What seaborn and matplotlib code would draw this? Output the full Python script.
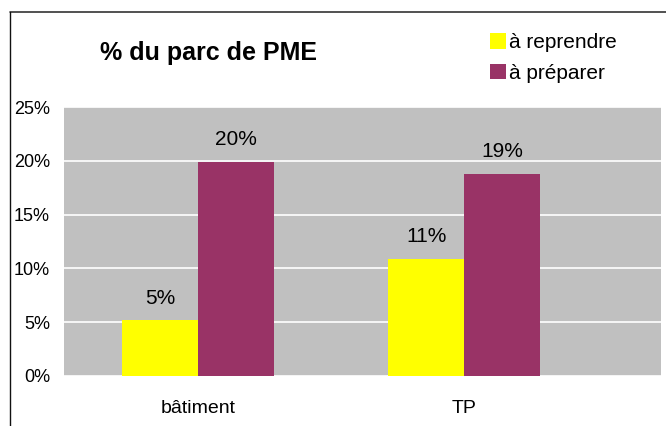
import pandas as pd
import numpy as np
import matplotlib.pyplot as plt
import seaborn as sns
from matplotlib.lines import Line2D
from matplotlib.patches import Patch

# data
categories = ["bâtiment", "TP"]
series = ["à reprendre", "à préparer"]
reprendre = [5.2, 10.9]
preparer = [19.9, 18.8]
labels_reprendre = ["5%", "11%"]
labels_preparer = ["20%", "19%"]
yticks = [0, 5, 10, 15, 20, 25]
colors = ["#FFFF00", "#993366"]

data = pd.DataFrame({
    "cat": categories * 2,
    "serie": [series[0]] * 2 + [series[1]] * 2,
    "val": reprendre + preparer,
    "lab": labels_reprendre + labels_preparer,
})

sns.set_style("white")
plt.rcParams["font.family"] = ["Liberation Sans", "DejaVu Sans"]
plt.rcParams["text.color"] = "black"
plt.rcParams["xtick.color"] = "black"
plt.rcParams["ytick.color"] = "black"

fig = plt.figure(figsize=(6.66, 4.26), dpi=100)
W, H = 666, 426
ax = fig.add_axes([64 / W, (H - 376) / H, 597 / W, 269 / H])
ax.set_facecolor("#C0C0C0")

sns.barplot(data=data, x="cat", y="val", hue="serie", palette=colors,
            width=0.571, gap=0, saturation=1, ax=ax, legend=False,
            edgecolor="none", linewidth=0)

ax.set_xlim(-0.504, 1.74)
ax.set_ylim(0, 25)
ax.set_yticks(yticks)
ax.set_yticklabels([f"{t}%" for t in yticks], fontsize=13)
ax.tick_params(axis="y", length=0, pad=10, labelcolor="black")
ax.tick_params(axis="x", length=0, pad=17, labelsize=14, labelcolor="black")
ax.set_xlabel("")
ax.set_ylabel("")
ax.grid(axis="y", color="white", linewidth=1.2)
ax.set_axisbelow(True)
for s in ax.spines.values():
    s.set_visible(False)

# value labels above bars
for cont, labs in zip(ax.containers, [labels_reprendre, labels_preparer]):
    for bar, lab in zip(cont, labs):
        ax.annotate(lab, (bar.get_x() + bar.get_width() / 2, bar.get_height()),
                    xytext=(0, 9), textcoords="offset points",
                    ha="center", va="bottom", fontsize=15, color="black")

fig.text(208 / W, 1 - 53 / H, "% du parc de PME", fontsize=18,
         fontweight="bold", ha="center", va="center", color="black")

handles = [Patch(facecolor=c, edgecolor="none") for c in colors]
leg = fig.legend(handles, series, loc="upper left",
                 bbox_to_anchor=(482 / W, 1 - 25 / H), frameon=False,
                 fontsize=15, handlelength=0.75, handleheight=0.75,
                 handletextpad=0.15, labelspacing=0.55, borderaxespad=0)
for t in leg.get_texts():
    t.set_color("black")

# outer frame (top and left visible)
fig.add_artist(Line2D([10 / W, 1], [1 - 12 / H, 1 - 12 / H],
                      color="#333333", linewidth=1.2))
fig.add_artist(Line2D([10 / W, 10 / W], [0, 1 - 12 / H],
                      color="#111111", linewidth=1.0))

fig.savefig("out.png", dpi=100)
